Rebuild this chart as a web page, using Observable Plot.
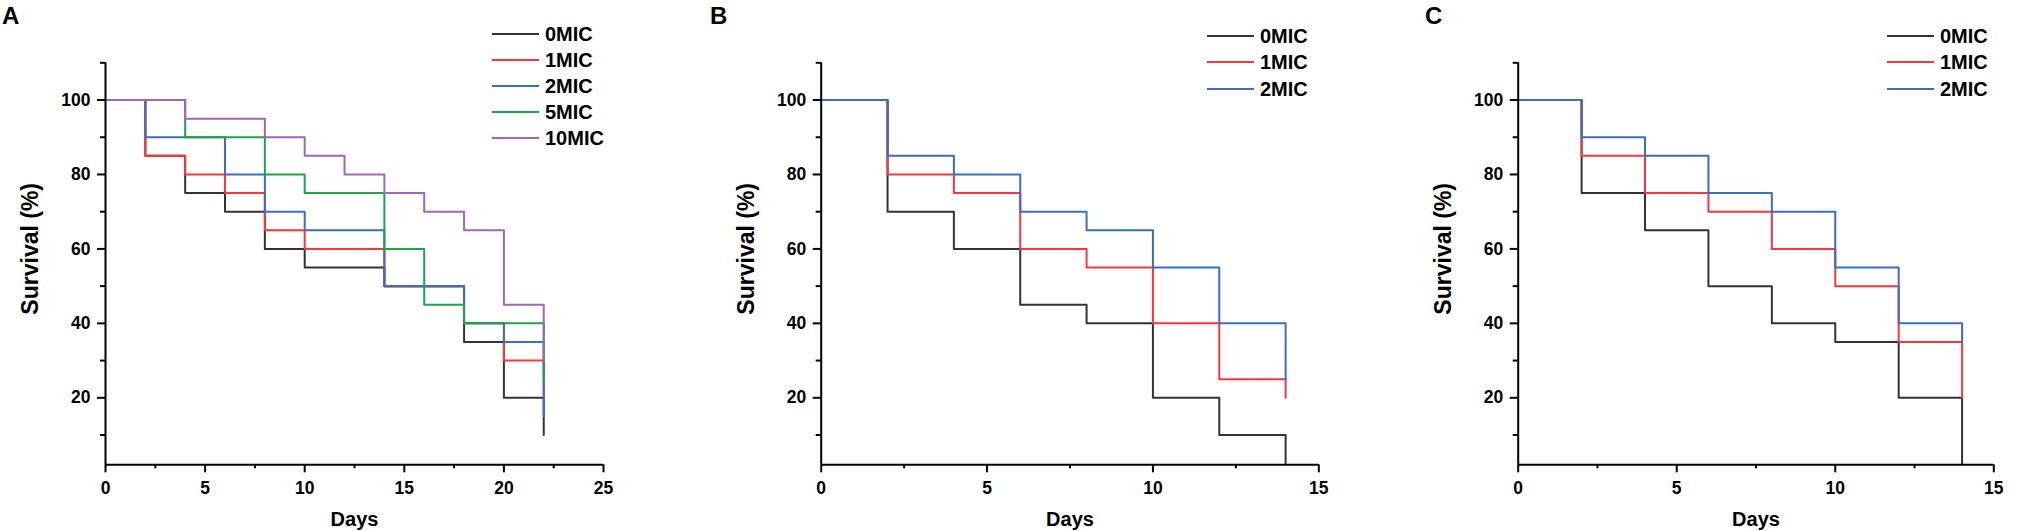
<!DOCTYPE html>
<html>
<head>
<meta charset="utf-8">
<script src="https://cdn.jsdelivr.net/npm/d3@7"></script>
<script src="https://cdn.jsdelivr.net/npm/@observablehq/plot@0.6"></script>
<style>
  html, body { margin: 0; padding: 0; background: #fff; }
  body { width: 2027px; height: 531px; position: relative; overflow: hidden;
         font-family: "Liberation Sans", Arial, sans-serif; }
  .panel { position: absolute; top: 0; }
  .letter { position: absolute; font-weight: bold; font-size: 24px; line-height: 1; top: 4px; }
  .leg { position: absolute; display: flex; align-items: center; height: 20px; }
  .leg .sw { width: 47px; height: 0; border-top: 2px solid; margin-right: 6px; }
  .leg .lb { font-weight: bold; font-size: 20px; line-height: 20px; }
</style>
</head>
<body>
<script>
// ---------- data ----------
const seriesNames = ["0MIC", "1MIC", "2MIC", "5MIC", "10MIC"];
const seriesColors = ["#333333", "#f8363c", "#3b6cc6", "#1fa34a", "#a066b8"];

const daysA = [0, 2, 4, 6, 8, 10, 12, 14, 16, 18, 20, 22];
const a0MIC  = [100, 85, 75, 70, 60, 55, 55, 50, 50, 35, 20, 10];
const a1MIC  = [100, 85, 80, 75, 65, 60, 60, 50, 50, 40, 30, 20];
const a2MIC  = [100, 90, 90, 80, 70, 65, 65, 50, 50, 40, 35, 15];
const a5MIC  = [100, 100, 90, 90, 80, 75, 75, 60, 45, 40, 40, 25];
const a10MIC = [100, 100, 95, 95, 90, 85, 80, 75, 70, 65, 45, 30];

const daysB = [0, 2, 4, 6, 8, 10, 12, 14];
const b0MIC = [100, 70, 60, 45, 40, 20, 10, 0];
const b1MIC = [100, 80, 75, 60, 55, 40, 25, 20];
const b2MIC = [100, 85, 80, 70, 65, 55, 40, 25];

const daysC = [0, 2, 4, 6, 8, 10, 12, 14];
const c0MIC = [100, 75, 65, 50, 40, 35, 20, 0];
const c1MIC = [100, 85, 75, 70, 60, 50, 35, 20];
const c2MIC = [100, 90, 85, 75, 70, 55, 40, 35];

const yMajor = [20, 40, 60, 80, 100];
const yMinor = [10, 30, 50, 70, 90, 110];
const xMajorA = [0, 5, 10, 15, 20, 25];
const xMinorA = [2.5, 7.5, 12.5, 17.5, 22.5];
const xMajorBC = [0, 5, 10, 15];
const xMinorBC = [2.5, 7.5, 12.5];
const xLabel = "Days";
const yLabel = "Survival (%)";

// ---------- drawing ----------
const H = 531, MT = 62.3, MB = 531 - 464.3;

function panel({left, width, ml, mr, xmax, days, values, xMajor, xMinor, letter, letterX, legendLeft, legendRows}) {
  const marks = [];
  values.forEach((vals, i) => {
    const table = days.map((d, j) => ({day: d, v: vals[j]}));
    marks.push(Plot.line(table, {x: "day", y: "v", curve: "step-after",
      stroke: seriesColors[i], strokeWidth: 2, clip: true}));
  });
  marks.push(
    Plot.axisX({ticks: xMajor, tickSize: 8, tickPadding: 9, fontSize: 17.5, fontWeight: "bold",
      strokeWidth: 2, label: null, tickFormat: d => d}),
    Plot.axisX({ticks: xMinor, tickSize: 4, tickPadding: 0, strokeWidth: 2, label: null, tickFormat: () => ""}),
    Plot.axisY({ticks: yMajor, tickSize: 8, tickPadding: 7, fontSize: 17.5, fontWeight: "bold",
      strokeWidth: 2, label: null, tickFormat: d => d}),
    Plot.axisY({ticks: yMinor, tickSize: 5, tickPadding: 0, strokeWidth: 2, label: null, tickFormat: () => ""}),
    Plot.ruleY([2], {strokeWidth: 2}),
    Plot.ruleX([0], {strokeWidth: 2}),
    Plot.text([xLabel], {text: d => d, frameAnchor: "bottom", dy: 61, lineAnchor: "bottom",
      fontSize: 20, fontWeight: "bold"}),
    Plot.text([yLabel], {text: d => d, frameAnchor: "left", rotate: -90, dx: -75, dy: -15,
      lineAnchor: "middle", textAnchor: "middle", fontSize: 23, fontWeight: "bold"})
  );
  const chart = Plot.plot({
    width, height: H,
    marginLeft: ml, marginRight: mr, marginTop: MT, marginBottom: MB,
    x: {domain: [0, xmax]},
    y: {domain: [2, 110]},
    style: {fontFamily: "'Liberation Sans', Arial, sans-serif", color: "black", background: "white", overflow: "visible"},
    marks
  });
  const div = document.createElement("div");
  div.className = "panel";
  div.style.left = left + "px";
  div.appendChild(chart);
  document.body.appendChild(div);

  const l = document.createElement("div");
  l.className = "letter";
  l.style.left = letterX + "px";
  l.textContent = letter;
  document.body.appendChild(l);

  values.forEach((_, i) => {
    const e = document.createElement("div");
    e.className = "leg";
    e.style.left = legendLeft + "px";
    e.style.top = (legendRows[i] - 10) + "px";
    e.innerHTML = `<div class="sw" style="border-color:${seriesColors[i]}"></div><div class="lb">${seriesNames[i]}</div>`;
    document.body.appendChild(e);
  });
}

panel({left: 0, width: 680, ml: 105, mr: 77, xmax: 25, days: daysA,
  values: [a0MIC, a1MIC, a2MIC, a5MIC, a10MIC], xMajor: xMajorA, xMinor: xMinorA,
  letter: "A", letterX: 2, legendLeft: 492, legendRows: [33.5, 59.7, 86, 112.2, 138.4]});

panel({left: 680, width: 680, ml: 140.7, mr: 41.7, xmax: 15, days: daysB,
  values: [b0MIC, b1MIC, b2MIC], xMajor: xMajorBC, xMinor: xMinorBC,
  letter: "B", letterX: 710, legendLeft: 1207, legendRows: [35.5, 62.2, 89]});

panel({left: 1360, width: 667, ml: 157.7, mr: 33.7, xmax: 15, days: daysC,
  values: [c0MIC, c1MIC, c2MIC], xMajor: xMajorBC, xMinor: xMinorBC,
  letter: "C", letterX: 1425, legendLeft: 1887, legendRows: [35.5, 62.2, 89]});
</script>
</body>
</html>
